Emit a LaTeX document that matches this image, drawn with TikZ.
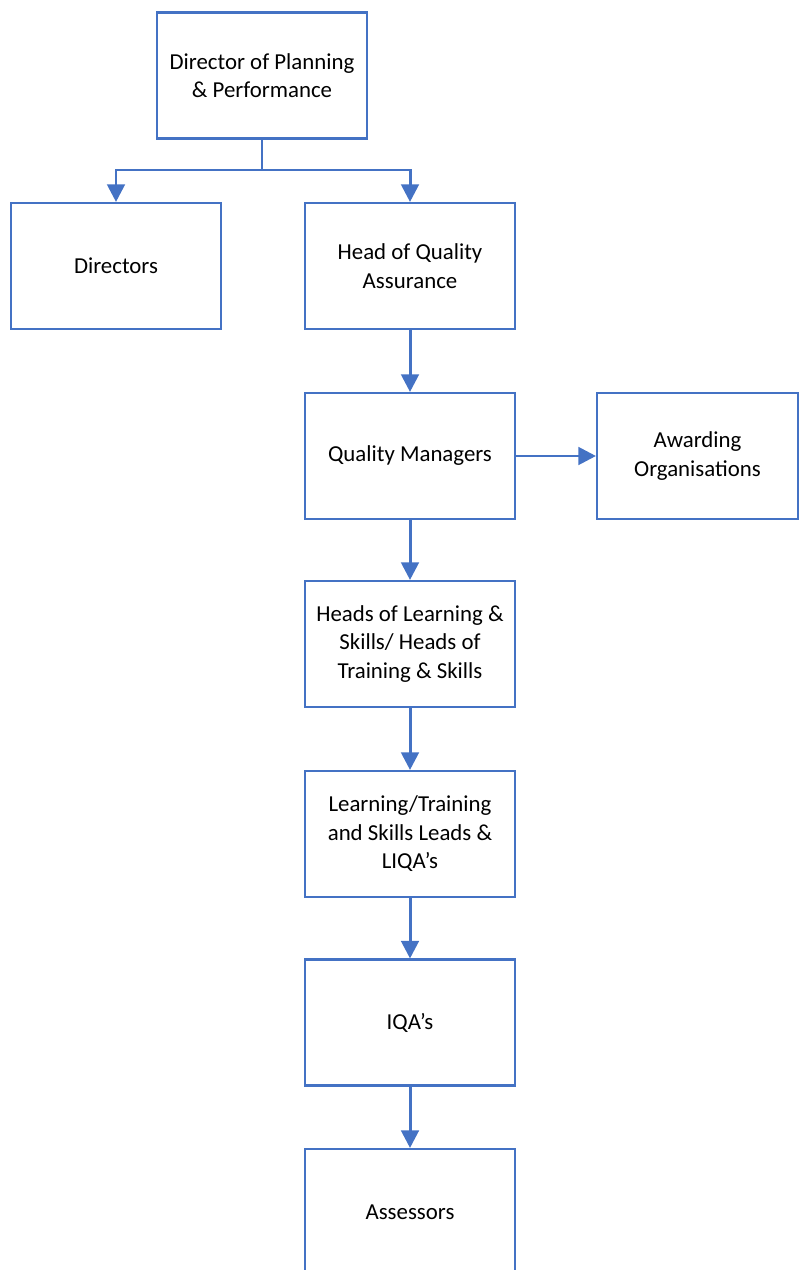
\documentclass[tikz,border=0pt]{standalone}
\usepackage{fontspec}
\setmainfont{Carlito}
\usetikzlibrary{arrows.meta}
\definecolor{chartblue}{HTML}{4472C4}

\begin{document}
\begin{tikzpicture}[x=0.02cm, y=-0.02cm,
    box/.style={draw=chartblue, line width=1.2pt, rectangle, minimum width=4.2cm, minimum height=2.52cm,
      inner sep=2pt, align=center, font=\fontsize{13}{16.2}\selectfont},
    link/.style={draw=chartblue, line width=1.7pt, -{Triangle[width=10pt,length=10pt]}}]
    \useasboundingbox (0,0) rectangle (799,1270);
    \clip (0,0) rectangle (799,1270);

    \node[box] (DPP) at (262, 75.5) {Director of Planning\\\& Performance};
    \node[box] (DIR) at (116, 266) {Directors};
    \node[box] (HQA) at (410, 266) {Head of Quality\\Assurance};
    \node[box] (QM) at (410, 456) {Quality Managers};
    \node[box, minimum width=4.02cm] (AO) at (697.5, 456) {Awarding\\Organisations};
    \node[box] (HLS) at (410, 644) {Heads of Learning \&\\Skills/ Heads of\\Training \& Skills};
    \node[box] (LTS) at (410, 834) {Learning/Training\\and Skills Leads \&\\LIQA’s};
    \node[box] (IQA) at (410, 1022.5) {IQA’s};
    \node[box] (ASS) at (410, 1212) {Assessors};
    \coordinate (fork) at (262, 170);

    % connectors
    \draw[link] (DPP.south) -- (fork) -| (DIR.north);
    \draw[link] (fork) -| (HQA.north);
    \draw[link] (HQA) -- (QM);
    \draw[link] (QM) -- (AO);
    \draw[link] (QM) -- (HLS);
    \draw[link] (HLS) -- (LTS);
    \draw[link] (LTS) -- (IQA);
    \draw[link] (IQA) -- (ASS);
\end{tikzpicture}
\end{document}
